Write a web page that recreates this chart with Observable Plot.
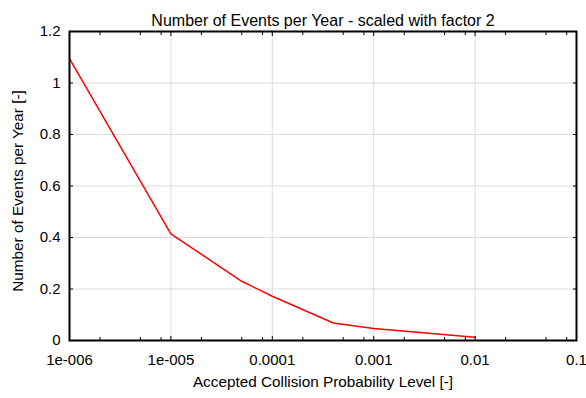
<!DOCTYPE html>
<html>
<head>
<meta charset="utf-8">
<script src="https://cdn.jsdelivr.net/npm/d3@7"></script>
<script src="https://cdn.jsdelivr.net/npm/@observablehq/plot@0.6"></script>
<style>
  html, body { margin: 0; padding: 0; background: #fff; }
  svg { font-family: "Liberation Sans", Arial, sans-serif; }
</style>
</head>
<body>
<div id="chart"></div>
<script>
const probability = [1e-6, 1e-5, 5e-5, 1e-4, 4e-4, 1e-3, 1e-2];
const events = [1.095, 0.414, 0.230, 0.172, 0.068, 0.047, 0.013];
const xTicks = [1e-6, 1e-5, 1e-4, 1e-3, 1e-2, 1e-1];
const xTickLabels = ["1e-006", "1e-005", "0.0001", "0.001", "0.01", "0.1"];
const xMinorTicks = [2e-6, 5e-6, 8e-6, 2e-5, 5e-5, 8e-5, 2e-4, 5e-4, 8e-4, 2e-3, 5e-3, 8e-3, 2e-2, 5e-2, 8e-2];
const yTicks = [0, 0.2, 0.4, 0.6, 0.8, 1.0, 1.2];
const yTickLabels = ["0", "0.2", "0.4", "0.6", "0.8", "1", "1.2"];
const title = "Number of Events per Year - scaled with factor 2";
const xLabel = "Accepted Collision Probability Level [-]";
const yLabel = "Number of Events per Year [-]";

const data = probability.map((p, i) => ({p, v: events[i]}));
const xFmt = d => xTickLabels[xTicks.findIndex(t => Math.abs(Math.log10(t) - Math.log10(d)) < 1e-6)];
const yFmt = d => yTickLabels[yTicks.findIndex(t => Math.abs(t - d) < 1e-9)];

const chart = Plot.plot({
  width: 586,
  height: 398,
  marginLeft: 69,
  marginRight: 10,
  marginTop: 31,
  marginBottom: 58,
  style: {fontFamily: "'Liberation Sans', Arial, sans-serif", fontSize: "15px", color: "#000", background: "#fff"},
  x: {type: "log", domain: [1e-6, 0.1]},
  y: {domain: [0, 1.2]},
  marks: [
    Plot.gridX(xTicks, {stroke: "#dcdcdc", strokeOpacity: 1, strokeWidth: 1}),
    Plot.gridY(yTicks, {stroke: "#dcdcdc", strokeOpacity: 1, strokeWidth: 1}),
    Plot.line(data, {x: "p", y: "v", stroke: "#ff0000", strokeWidth: 1.5}),
    Plot.axisX(xTicks, {tickSize: 0, tickPadding: 14, tickFormat: xFmt, label: null, fontSize: 15}),
    Plot.axisX(xTicks, {tickSize: -4, text: null, label: null}),
    Plot.axisX(xMinorTicks, {tickSize: -3, text: null, label: null}),
    Plot.axisX(xTicks, {anchor: "top", tickSize: -4, text: null, label: null}),
    Plot.axisX(xMinorTicks, {anchor: "top", tickSize: -3, text: null, label: null}),
    Plot.axisY(yTicks, {tickSize: 0, tickPadding: 9, tickFormat: yFmt, label: null, fontSize: 15}),
    Plot.axisY(yTicks, {tickSize: -4, text: null, label: null}),
    Plot.axisY(yTicks, {anchor: "right", tickSize: -4, text: null, label: null}),
    Plot.frame({stroke: "#000", strokeWidth: 2}),
    Plot.text([title], {frameAnchor: "top", textAnchor: "middle", dy: -17, fontSize: 16, text: d => d}),
    Plot.text([xLabel], {frameAnchor: "bottom", textAnchor: "middle", dy: 46, fontSize: 15.3, text: d => d}),
    Plot.text([yLabel], {frameAnchor: "left", textAnchor: "middle", dx: -51, dy: 5, rotate: -90, fontSize: 15.3, text: d => d})
  ]
});
document.getElementById("chart").appendChild(chart);
</script>
</body>
</html>
